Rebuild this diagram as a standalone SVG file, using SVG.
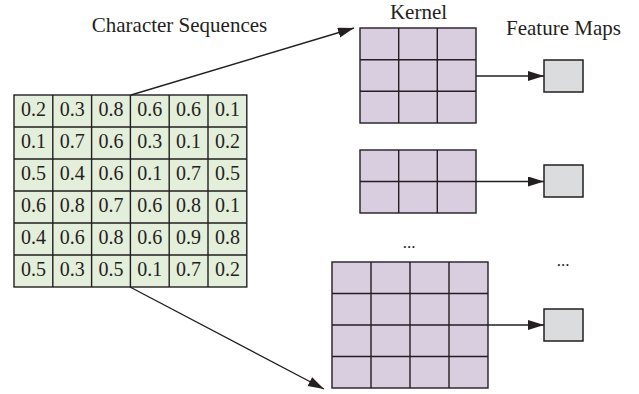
<svg xmlns="http://www.w3.org/2000/svg" width="639" height="394" viewBox="0 0 639 394">
<defs>
<style>
text{font-family:"Liberation Serif","Times New Roman",serif;fill:#231f20}
.lbl{font-size:21px;text-anchor:middle}
.num{font-size:20px;text-anchor:middle}
.dots{font-size:17px;text-anchor:middle}
.g{fill:#e3eedb;stroke:#231f20;stroke-width:1.4}
.k{fill:#d9cee0;stroke:#231f20;stroke-width:1.4}
.f{fill:#dbdcdd;stroke:#231f20;stroke-width:1.5}
.ln{stroke:#231f20;stroke-width:1.4;fill:none}
.arr{stroke:#231f20;stroke-width:1.4;fill:none;marker-end:url(#ah)}
</style>
<marker id="ah" markerUnits="userSpaceOnUse" markerWidth="17" markerHeight="11" refX="16" refY="5" orient="auto">
<path d="M0,0 L16,5 L0,10 z" fill="#231f20"/>
</marker>
</defs>
<rect width="639" height="394" fill="#ffffff"/>
<text class="lbl" x="179.5" y="32">Character Sequences</text>
<text class="lbl" x="418.5" y="19">Kernel</text>
<text class="lbl" x="563.5" y="35">Feature Maps</text>
<text class="dots" x="409" y="248">...</text>
<text class="dots" x="563" y="266">...</text>

<g id="input-grid">
<rect class="g" x="14" y="95" width="232.8" height="192"/>
<path class="ln" d="M52.8,95V287M91.6,95V287M130.4,95V287M169.2,95V287M208,95V287M14,127H246.8M14,159H246.8M14,191H246.8M14,223H246.8M14,255H246.8"/>
<g class="num">
<text class="num" x="33.4" y="116">0.2</text><text class="num" x="72.2" y="116">0.3</text><text class="num" x="111" y="116">0.8</text><text class="num" x="149.8" y="116">0.6</text><text class="num" x="188.6" y="116">0.6</text><text class="num" x="227.4" y="116">0.1</text>
<text class="num" x="33.4" y="148">0.1</text><text class="num" x="72.2" y="148">0.7</text><text class="num" x="111" y="148">0.6</text><text class="num" x="149.8" y="148">0.3</text><text class="num" x="188.6" y="148">0.1</text><text class="num" x="227.4" y="148">0.2</text>
<text class="num" x="33.4" y="180">0.5</text><text class="num" x="72.2" y="180">0.4</text><text class="num" x="111" y="180">0.6</text><text class="num" x="149.8" y="180">0.1</text><text class="num" x="188.6" y="180">0.7</text><text class="num" x="227.4" y="180">0.5</text>
<text class="num" x="33.4" y="212">0.6</text><text class="num" x="72.2" y="212">0.8</text><text class="num" x="111" y="212">0.7</text><text class="num" x="149.8" y="212">0.6</text><text class="num" x="188.6" y="212">0.8</text><text class="num" x="227.4" y="212">0.1</text>
<text class="num" x="33.4" y="244">0.4</text><text class="num" x="72.2" y="244">0.6</text><text class="num" x="111" y="244">0.8</text><text class="num" x="149.8" y="244">0.6</text><text class="num" x="188.6" y="244">0.9</text><text class="num" x="227.4" y="244">0.8</text>
<text class="num" x="33.4" y="276">0.5</text><text class="num" x="72.2" y="276">0.3</text><text class="num" x="111" y="276">0.5</text><text class="num" x="149.8" y="276">0.1</text><text class="num" x="188.6" y="276">0.7</text><text class="num" x="227.4" y="276">0.2</text>
</g>
</g>

<g id="kernel-3x3">
<rect class="k" x="360" y="28" width="116" height="95"/>
<path class="ln" d="M398.7,28V123M437.3,28V123M360,59.7H476M360,91.3H476"/>
</g>
<g id="kernel-2x3">
<rect class="k" x="360" y="150" width="116" height="63"/>
<path class="ln" d="M398.7,150V213M437.3,150V213M360,181.5H476"/>
</g>
<g id="kernel-4x4">
<rect class="k" x="332" y="262" width="156" height="126"/>
<path class="ln" d="M371,262V388M410,262V388M449,262V388M332,293.5H488M332,325H488M332,356.5H488"/>
</g>

<g id="feature-map-1"><rect class="f" x="544" y="60" width="39" height="32"/></g>
<g id="feature-map-2"><rect class="f" x="544" y="165" width="39" height="32"/></g>
<g id="feature-map-3"><rect class="f" x="544" y="309" width="39" height="32"/></g>

<g id="connectors">
<path class="arr" d="M131,95L354,28"/>
<path class="arr" d="M130,287L324,389"/>
<path class="arr" d="M476,76H544"/>
<path class="arr" d="M476,181.5H544"/>
<path class="arr" d="M488,325H544"/>
</g>
</svg>
